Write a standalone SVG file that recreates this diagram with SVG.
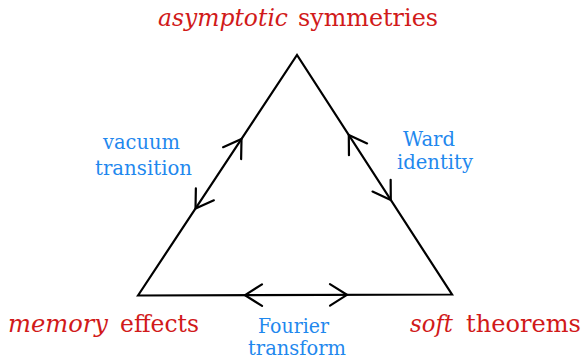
<svg xmlns="http://www.w3.org/2000/svg" width="584" height="359" viewBox="0 0 584 359">
<style>
text{font-family:"DejaVu Serif","Liberation Serif","Noto Serif",serif}
.red{font-size:25px;fill:#d11a1a}
.it{font-style:italic}
.blue{font-size:20px;fill:#1f88ee}
.edge{fill:none;stroke:#000;stroke-width:2.2;stroke-linejoin:miter}
.stub{fill:none;stroke:none;marker-end:url(#to)}
</style>
<defs>
<marker id="to" markerUnits="userSpaceOnUse" markerWidth="24" markerHeight="26" refX="20" refY="13" orient="auto" overflow="visible">
<path d="M3 2.2 L20 13 L3 23.8" fill="none" stroke="#000" stroke-width="2.2" stroke-linejoin="miter" stroke-linecap="round"/>
</marker>
</defs>
<g id="node-asymptotic">
<text class="red" y="26"><tspan class="it" x="158" textLength="130" lengthAdjust="spacingAndGlyphs">asymptotic</tspan><tspan x="298" textLength="140" lengthAdjust="spacingAndGlyphs">symmetries</tspan></text>
</g>
<g id="node-memory">
<text class="red" y="332"><tspan class="it" x="8" textLength="100" lengthAdjust="spacingAndGlyphs">memory</tspan><tspan x="120" textLength="79" lengthAdjust="spacingAndGlyphs">effects</tspan></text>
</g>
<g id="node-soft">
<text class="red" y="332"><tspan class="it" x="410" textLength="43" lengthAdjust="spacingAndGlyphs">soft</tspan><tspan x="466" textLength="115" lengthAdjust="spacingAndGlyphs">theorems</tspan></text>
</g>
<g id="connectors">
<path class="edge" d="M138 295.5 L297 55 L452 294.5 Z"/>
<g id="edge-vacuum">
<path class="stub" d="M217.5 175.25 L241.5 139"/>
<path class="stub" d="M217.5 175.25 L195.5 208.5"/>
<text class="blue" x="103" y="149" textLength="77" lengthAdjust="spacingAndGlyphs">vacuum</text>
<text class="blue" x="95" y="175" textLength="97" lengthAdjust="spacingAndGlyphs">transition</text>
</g>
<g id="edge-ward">
<path class="stub" d="M374.5 174.75 L348.8 135"/>
<path class="stub" d="M374.5 174.75 L390.8 200"/>
<text class="blue" x="403" y="146" textLength="52" lengthAdjust="spacingAndGlyphs">Ward</text>
<text class="blue" x="397" y="169" textLength="76" lengthAdjust="spacingAndGlyphs">identity</text>
</g>
<g id="edge-fourier">
<path class="stub" d="M295 295 L245 295.16"/>
<path class="stub" d="M295 295 L347 294.83"/>
<text class="blue" x="258" y="333" textLength="71" lengthAdjust="spacingAndGlyphs">Fourier</text>
<text class="blue" x="248" y="355" textLength="98" lengthAdjust="spacingAndGlyphs">transform</text>
</g>
</g>
</svg>
